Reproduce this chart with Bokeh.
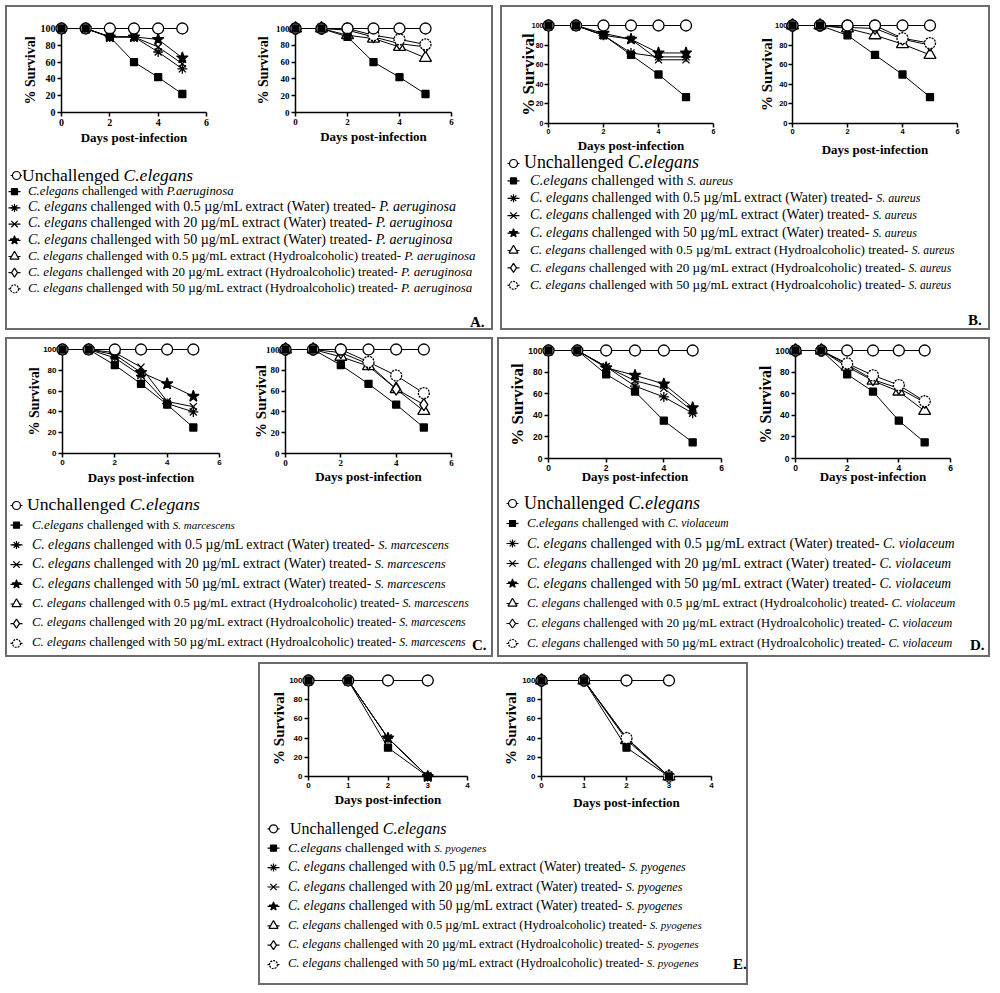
from bokeh.plotting import figure
from bokeh.layouts import row, column
from bokeh.models import Div, Spacer, Range1d, FixedTicker
from bokeh.embed import file_html
from bokeh.resources import INLINE

# ---------------- data ----------------
DAYS_A = [0, 1, 2, 3, 4, 5]
DAYS_E = [0, 1, 2, 3]
X_TICKS_6 = [0, 2, 4, 6]
X_TICKS_4 = [0, 1, 2, 3, 4]
Y_TICKS = [0, 20, 40, 60, 80, 100]

# Panel A - P. aeruginosa
A_unch = [100, 100, 100, 100, 100, 100]
A_chal = [100, 100, 90, 60, 42, 22]
A_w05 = [100, 100, 90, 90, 72, 52]
A_w20 = [100, 100, 90, 90, 78, 58]
A_w50 = [100, 100, 90, 90, 87, 65]
A_h05 = [100, 100, 92, 88, 78, 65]
A_h20 = [100, 100, 98, 90, 82, 78]
A_h50 = [100, 100, 100, 92, 87, 81]

# Panel B - S. aureus
B_unch = [100, 100, 100, 100, 100, 100]
B_chal = [100, 100, 90, 70, 50, 27]
B_w05 = [100, 100, 90, 72, 68, 68]
B_w20 = [100, 100, 90, 86, 65, 65]
B_w50 = [100, 100, 92, 86, 72, 72]
B_h05 = [100, 100, 97, 90, 81, 70]
B_h20 = [100, 100, 98, 97, 86, 80]
B_h50 = [100, 100, 100, 100, 87, 82]

# Panel C - S. marcescens
C_unch = [100, 100, 100, 100, 100, 100]
C_chal = [100, 100, 85, 67, 47, 25]
C_w05 = [100, 100, 92, 75, 48, 40]
C_w20 = [100, 100, 97, 83, 50, 45]
C_w50 = [100, 100, 95, 78, 67, 55]
C_h05 = [100, 100, 93, 84, 62, 41]
C_h20 = [100, 100, 97, 86, 62, 47]
C_h50 = [100, 100, 100, 88, 75, 58]

# Panel D - C. violaceum
D_unch = [100, 100, 100, 100, 100, 100]
D_chal = [100, 100, 78, 62, 35, 15]
D_w05 = [100, 100, 85, 67, 57, 42]
D_w20 = [100, 100, 85, 72, 65, 44]
D_w50 = [100, 100, 84, 77, 69, 47]
D_h05 = [100, 100, 85, 72, 62, 44]
D_h20 = [100, 100, 87, 73, 65, 52]
D_h50 = [100, 100, 88, 77, 68, 53]

# Panel E - S. pyogenes
E_unch = [100, 100, 100, 100]
E_chal = [100, 100, 30, 0]
E_w05 = [100, 100, 40, 0]
E_w20 = [100, 100, 40, 0]
E_w50 = [100, 100, 40, 0]
E_h05 = [100, 100, 38, 0]
E_h20 = [100, 100, 40, 0]
E_h50 = [100, 100, 40, 0]

TREATMENTS = ["0.5 \u00b5g/mL extract (Water)", "20 \u00b5g/mL extract (Water)",
              "50 \u00b5g/mL extract (Water)", "0.5 \u00b5g/mL extract (Hydroalcoholic)",
              "20 \u00b5g/mL extract (Hydroalcoholic)", "50 \u00b5g/mL extract (Hydroalcoholic)"]

# ---------------- styles ----------------
MARKERS = ["circle", "square", "asterisk", "x", "star", "triangle", "diamond", "circle"]
FILLS = ["white", "black", None, None, "black", "white", "white", "white"]
SIZES = [11, 7, 10, 10, 12, 12, 12, 11]
LEG_SIZES = [8, 6, 8, 9, 9, 9, 9, 8]
DASHES = ["solid"] * 7 + ["2 1"]
SERIF = "Liberation Serif"
SANS = "Liberation Sans"


def survival_plot(L, R, T, B, geo, xs, series, idxs, xmax, xticks, tfont, tsize, ylsize, s1=2):
    x0, x1, y100, y0, xlab_c, ylab_c = geo
    p = figure(width=R - L, height=B - T, x_range=Range1d(0, xmax), y_range=Range1d(0, 100),
               min_border_left=round(x0 - L), min_border_right=round(R - x1),
               min_border_top=round(y100 - T), min_border_bottom=round(B - y0),
               toolbar_location=None, output_backend="svg", title=None)
    p.outline_line_color = None
    p.background_fill_color = None
    p.border_fill_color = None
    p.xgrid.visible = False
    p.ygrid.visible = False
    p.xaxis.ticker = FixedTicker(ticks=xticks)
    p.yaxis.ticker = FixedTicker(ticks=Y_TICKS)
    for ax in (p.xaxis[0], p.yaxis[0]):
        ax.axis_line_width = 1.5
        ax.axis_line_color = "black"
        ax.major_tick_line_width = 1.5
        ax.major_tick_line_color = "black"
        ax.major_tick_in = 0
        ax.major_tick_out = 4
        ax.minor_tick_line_color = None
        ax.major_label_text_font = tfont
        ax.major_label_text_font_size = f"{tsize}px"
        ax.major_label_text_font_style = "bold"
        ax.major_label_text_color = "black"
        ax.major_label_standoff = s1
        ax.axis_label_text_font = SERIF
        ax.axis_label_text_font_style = "bold"
        ax.axis_label_text_color = "black"
    p.xaxis.axis_label = "Days post-infection"
    p.yaxis.axis_label = "% Survival"
    p.xaxis.axis_label_text_font_size = "13px"
    p.yaxis.axis_label_text_font_size = f"{ylsize}px"
    p.xaxis.axis_label_standoff = round(xlab_c - y0 - (4 + s1 + 1.15 * tsize + 0.58 * 13))
    w100 = 3 * (0.5 if tfont == SERIF else 0.556) * tsize
    p.yaxis.axis_label_standoff = round((x0 - ylab_c) - (4 + s1 + w100 + 0.58 * ylsize))
    for k in idxs:
        r = p.line(xs, series[k], line_color="black", line_width=1)
        r.level = "overlay"
    # treated series first, then unchallenged, then the challenged control on top
    order = [k for k in idxs if k > 1] + [0, 1]
    for k in order:
        r = p.scatter(xs, series[k], marker=MARKERS[k], size=SIZES[k], fill_color=FILLS[k],
                      line_color="black", line_width=1.3, line_dash=DASHES[k])
        r.level = "overlay"
    return p


def legend_markers(width, height, top, lh, cx1, cx):
    p = figure(width=width, height=height, x_range=Range1d(0, width), y_range=Range1d(height, 0),
               min_border=0, toolbar_location=None, output_backend="svg",
               x_axis_type=None, y_axis_type=None, title=None)
    p.outline_line_color = None
    p.background_fill_color = None
    p.border_fill_color = None
    ys = [top + (i + 0.5) * lh for i in range(8)]
    xs = [cx1] + [cx] * 7
    p.segment(x0=[x - 6 for x in xs], y0=ys, x1=[x + 6 for x in xs], y1=ys,
              line_color="black", line_width=1.2)
    for i in range(8):
        r = p.scatter([xs[i]], [ys[i]], marker=MARKERS[i], size=LEG_SIZES[i], fill_color=FILLS[i],
                      line_color="black", line_width=1.2, line_dash=DASHES[i])
        r.level = "overlay"
    return p


def legend_div(width, height, top, lh, pad1, pad, fonts, sp2, sp, letter, lx, ly):
    f1, f2, fsp2, fw, fspw, fh, fsph = fonts
    lines = [
        (pad1, f1, "Unchallenged <i>C.elegans</i>"),
        (pad, f2, f"<i>C.elegans</i> challenged with <i style='font-size:{fsp2}px'>{sp2}</i>"),
    ]
    for j, t in enumerate(TREATMENTS):
        fs, fsp = (fw, fspw) if j < 3 else (fh, fsph)
        lines.append((pad, fs, f"<i>C. elegans</i> challenged with {t} treated- "
                                f"<i style='font-size:{fsp}px'>{sp}</i>"))
    html = (f"<div style=\"position:relative;width:{width}px;height:{height}px;"
            f"font-family:'{SERIF}',serif;color:#000;white-space:nowrap;\">"
            f"<div style='position:absolute;left:0px;top:{top}px'>")
    for pd, fs, txt in lines:
        html += (f"<div style='height:{lh}px;line-height:{lh}px;padding-left:{pd}px;"
                 f"font-size:{fs}px'>{txt}</div>")
    html += "</div>"
    html += (f"<div style='position:absolute;left:{lx}px;top:{ly}px;font-size:15px;"
             f"font-weight:bold;line-height:15px'>{letter}</div></div>")
    return Div(text=html, width=width, height=height, margin=0)


def panel(cfg):
    L, T, R, B = cfg["box"]
    LT = cfg["legend_top"]
    mid = cfg["mid"]
    ser = cfg["series"]
    xs = cfg["xs"]
    s1 = cfg.get("s1", 2)
    p1 = survival_plot(L, mid, T, LT, cfg["geo1"], xs, ser, [0, 1, 2, 3, 4], cfg["xmax"],
                       cfg["xticks"], cfg["tf1"], cfg["ts1"], cfg["yl1"], s1)
    p2 = survival_plot(mid, R, T, LT, cfg["geo2"], xs, ser, [0, 1, 5, 6, 7], cfg["xmax"],
                       cfg["xticks"], cfg["tf2"], cfg["ts2"], cfg["yl2"], s1)
    t1, t = cfg["text_x"]
    wm = min(t1, t) - L
    lh = cfg["lh"]
    top = cfg["first_center"] - lh / 2 - LT
    lg_h = B - LT
    mk = legend_markers(wm, lg_h, top, lh, cfg["marker_x"][0] - L, cfg["marker_x"][1] - L)
    lx, ly = cfg["letter_pos"]
    dv = legend_div(R - L - wm, lg_h, top, lh, t1 - L - wm, t - L - wm, cfg["fonts"],
                    cfg["sp2"], cfg["sp"], cfg["letter"], lx - L - wm, ly - LT)
    return column(row(p1, p2), row(mk, dv),
                  styles={"outline": "2px solid #6b6b6b", "outline-offset": "-2px"})


A = panel(dict(box=(5, 5, 493, 330), legend_top=166, mid=232, xs=DAYS_A, xmax=6, xticks=X_TICKS_6,
               series=[A_unch, A_chal, A_w05, A_w20, A_w50, A_h05, A_h20, A_h50],
               geo1=(61, 206, 28, 114, 140, 31.7), geo2=(295, 451, 23, 112, 136.7, 265),
               tf1=SERIF, ts1=10, yl1=14, tf2=SERIF, ts2=9, yl2=14,
               first_center=175, lh=16.2, marker_x=(16, 14), text_x=(22, 28),
               fonts=(17.5, 12.8, 12.8, 14, 14, 13, 13),
               sp2="P.aeruginosa", sp="P. aeruginosa", letter="A.", letter_pos=(470, 315)))

B = panel(dict(box=(500, 5, 990, 330), legend_top=159, mid=738, xs=DAYS_A, xmax=6, xticks=X_TICKS_6,
               series=[B_unch, B_chal, B_w05, B_w20, B_w50, B_h05, B_h20, B_h50],
               geo1=(548.3, 712.7, 25, 125, 146.7, 531), geo2=(791.7, 957.3, 25, 124, 150, 768),
               tf1=SANS, ts1=7, yl1=17, tf2=SANS, ts2=7.5, yl2=15, s1=1,
               first_center=163, lh=17.4, marker_x=(513, 513), text_x=(524, 530),
               fonts=(17.9, 14.5, 12.5, 13.8, 12, 13.2, 11.6),
               sp2="S. aureus", sp="S. aureus", letter="B.", letter_pos=(968, 313)))

C = panel(dict(box=(5, 337, 493, 657), legend_top=495, mid=238, xs=DAYS_A, xmax=6, xticks=X_TICKS_6,
               series=[C_unch, C_chal, C_w05, C_w20, C_w50, C_h05, C_h20, C_h50],
               geo1=(61.7, 219, 349, 453.3, 478, 36), geo2=(285, 450.7, 344.3, 454, 478, 263),
               tf1=SANS, ts1=8, yl1=14, tf2=SERIF, ts2=9, yl2=15,
               first_center=505, lh=19.7, marker_x=(16, 16), text_x=(27, 32),
               fonts=(17.7, 13, 11, 13.8, 12.6, 12.8, 11.8),
               sp2="S. marcescens", sp="S. marcescens", letter="C.", letter_pos=(472, 638)))

D = panel(dict(box=(497, 337, 990, 657), legend_top=493, mid=740, xs=DAYS_A, xmax=6, xticks=X_TICKS_6,
               series=[D_unch, D_chal, D_w05, D_w20, D_w50, D_h05, D_h20, D_h50],
               geo1=(548.3, 720.7, 350, 458.3, 477, 520), geo2=(795, 950, 345.7, 460, 478, 767.7),
               tf1=SANS, ts1=8.5, yl1=17, tf2=SANS, ts2=8.5, yl2=16,
               first_center=503, lh=20, marker_x=(512, 512), text_x=(524, 527),
               fonts=(18, 13, 11.5, 14.2, 13.6, 12.6, 12.1),
               sp2="C. violaceum", sp=" C. violaceum", letter="D.", letter_pos=(970, 638)))

E = panel(dict(box=(258, 662, 748, 985), legend_top=818, mid=490, xs=DAYS_E, xmax=4, xticks=X_TICKS_4,
               series=[E_unch, E_chal, E_w05, E_w20, E_w50, E_h05, E_h20, E_h50],
               geo1=(308.3, 466.7, 680, 776.7, 800, 281.7), geo2=(540.7, 710.7, 678.3, 776, 803, 513),
               tf1=SANS, ts1=8, yl1=15, tf2=SANS, ts2=8, yl2=15,
               first_center=828.3, lh=19.4, marker_x=(273, 273), text_x=(290, 288),
               fonts=(16, 13.5, 11, 13.6, 12, 12.5, 11),
               sp2="S. pyogenes", sp="S. pyogenes", letter="E.", letter_pos=(733, 957)))

layout = column(
    Spacer(width=10, height=5, margin=0),
    row(Spacer(width=5, height=10, margin=0), A, Spacer(width=7, height=10, margin=0), B),
    Spacer(width=10, height=7, margin=0),
    row(Spacer(width=5, height=10, margin=0), C, Spacer(width=4, height=10, margin=0), D),
    Spacer(width=10, height=5, margin=0),
    row(Spacer(width=258, height=10, margin=0), E),
)

open("out.html", "w").write(file_html(layout, INLINE))
